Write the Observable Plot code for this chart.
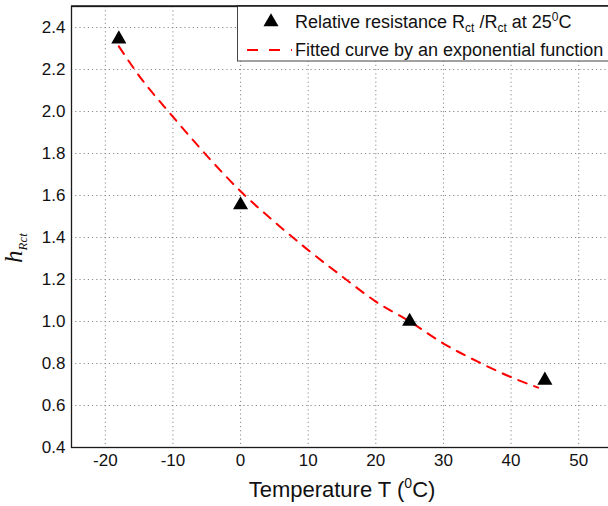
<!DOCTYPE html>
<html>
<head>
<meta charset="utf-8">
<script src="https://cdn.jsdelivr.net/npm/d3@7"></script>
<script src="https://cdn.jsdelivr.net/npm/@observablehq/plot@0.6"></script>
<style>
  html, body { margin: 0; padding: 0; background: #fff; overflow: hidden; }
  #chart { width: 608px; height: 506px; overflow: hidden; }
  #chart svg { max-width: none !important; }
</style>
</head>
<body>
<div id="chart"></div>
<script>
// Measured data: relative resistance vs temperature
const temps = [-18, 0, 25, 45];
const ratios = [2.345, 1.555, 1.0, 0.72];

// Fitted curve
const fitT = [-18, -15, -10, -5, 0, 5, 10, 15, 20, 25, 30, 35, 40, 44];
const fitH = [2.31, 2.17, 1.975, 1.79, 1.62, 1.475, 1.34, 1.215, 1.095, 1.0, 0.895, 0.81, 0.735, 0.685];

// Ticks
const xTicks = [-20, -10, 0, 10, 20, 30, 40, 50];
const yTicks = [0.4, 0.6, 0.8, 1.0, 1.2, 1.4, 1.6, 1.8, 2.0, 2.2, 2.4];

const points = temps.map((t, i) => ({t, h: ratios[i]}));
const fit = fitT.map((t, i) => ({t, h: fitH[i]}));

const gridStyle = {stroke: "#8a8a8a", strokeOpacity: 1, strokeWidth: 1, strokeDasharray: "1.2,3"};

const chart = Plot.plot({
  width: 612,
  height: 506,
  marginLeft: 71,
  marginRight: 0,
  marginTop: 6,
  marginBottom: 59,
  style: {fontFamily: "'Liberation Sans', Arial, sans-serif", fontSize: "17px", color: "#111", background: "#fff", maxWidth: "none"},
  x: {domain: [-25, 55]},
  y: {domain: [0.4, 2.5]},
  marks: [
    Plot.gridX(xTicks, gridStyle),
    Plot.gridY(yTicks, gridStyle),
    Plot.line(fit, {x: "t", y: "h", stroke: "#ff0000", strokeWidth: 2, strokeDasharray: "9,8", curve: "monotone-x"}),
    Plot.dot(points, {x: "t", y: "h", symbol: "triangle", r: 5.6, fill: "#000", stroke: "none"}),
    Plot.axisX(xTicks, {tickSize: 0, tickPadding: 6, tickFormat: d => String(d), label: null, fontSize: 17}),
    Plot.axisY(yTicks, {tickSize: 0, tickPadding: 6, tickFormat: d3.format(".1f"), label: null, fontSize: 17}),
    Plot.frame({stroke: "#1a1a1a", strokeWidth: 1.3})
  ]
});

document.getElementById("chart").appendChild(chart);

const svg = d3.select(chart);
const font = "'Liberation Sans', Arial, sans-serif";

// X axis title
const xl = svg.append("text")
  .attr("x", 342).attr("y", 497)
  .attr("text-anchor", "middle")
  .attr("font-family", font).attr("font-size", 22).attr("fill", "#111");
xl.append("tspan").text("Temperature T (");
xl.append("tspan").attr("font-size", 14).attr("dy", -9).text("0");
xl.append("tspan").attr("dy", 9).text("C)");

// Y axis title
const yl = svg.append("text")
  .attr("transform", "translate(22,248) rotate(-90)")
  .attr("text-anchor", "middle")
  .attr("font-family", "'Liberation Serif', 'Times New Roman', serif")
  .attr("font-style", "italic").attr("fill", "#111").attr("font-size", 25);
yl.append("tspan").text("h");
yl.append("tspan").attr("font-size", 13).attr("dy", 5).text("Rct");

// Legend
const lg = svg.append("g").attr("text-anchor", "start");
lg.append("rect")
  .attr("x", 237.5).attr("y", 5.5).attr("width", 380).attr("height", 55.5)
  .attr("fill", "#fff").attr("stroke", "#444").attr("stroke-width", 1);
lg.append("path")
  .attr("d", d3.symbol(d3.symbolTriangle, Math.PI * 5.6 * 5.6)())
  .attr("transform", "translate(271,22)").attr("fill", "#000");
lg.append("line")
  .attr("x1", 247).attr("x2", 292).attr("y1", 50).attr("y2", 50)
  .attr("stroke", "#ff0000").attr("stroke-width", 2).attr("stroke-dasharray", "11,11");
const t1 = lg.append("text").attr("x", 295).attr("y", 28)
  .attr("font-family", font).attr("font-size", 18).attr("fill", "#111");
t1.append("tspan").text("Relative resistance R");
t1.append("tspan").attr("font-size", 12).attr("dy", 4).text("ct");
t1.append("tspan").attr("dy", -4).text(" /R");
t1.append("tspan").attr("font-size", 12).attr("dy", 4).text("ct");
t1.append("tspan").attr("dy", -4).text(" at 25");
t1.append("tspan").attr("font-size", 12).attr("dy", -7).text("0");
t1.append("tspan").attr("dy", 7).text("C");
lg.append("text").attr("x", 295).attr("y", 56)
  .attr("font-family", font).attr("font-size", 18).attr("fill", "#111")
  .text("Fitted curve by an exponential function");

// Redraw top frame edge over legend border
svg.append("line").attr("x1", 71).attr("x2", 612).attr("y1", 6).attr("y2", 6)
  .attr("stroke", "#1a1a1a").attr("stroke-width", 1.3);
</script>
</body>
</html>
